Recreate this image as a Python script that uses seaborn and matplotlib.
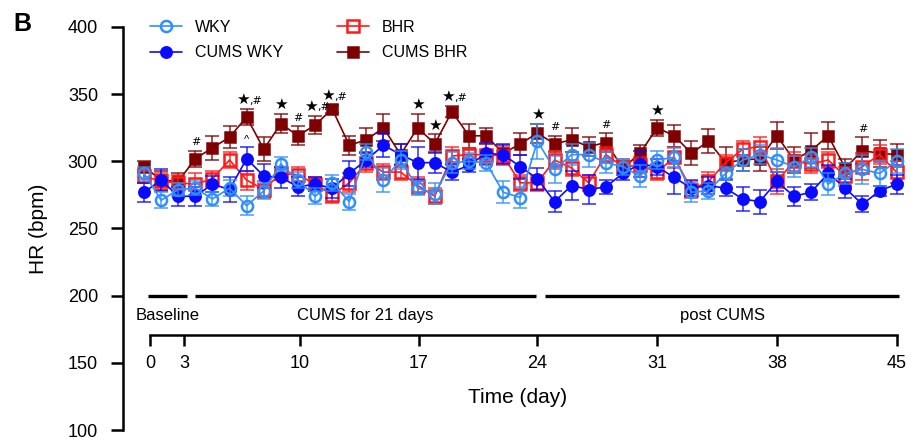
import numpy as np
import pandas as pd
from matplotlib import pyplot as plt
import seaborn as sns

sns.set_style('white')
plt.rcParams['font.family'] = ['Liberation Sans', 'DejaVu Sans']
plt.rcParams['text.color'] = 'black'
plt.rcParams['axes.labelcolor'] = 'black'
plt.rcParams['xtick.color'] = 'black'
plt.rcParams['ytick.color'] = 'black'

days = list(range(1, 46))

wky = [291, 271, 279, 280, 272, 280, 267, 278, 298, 286, 274, 284, 270, 307, 286,
       301, 280, 276, 299, 300, 299, 277, 273, 315, 294, 305, 305, 299, 296, 289,
       301, 303, 277, 278, 291, 301, 305, 301, 296, 303, 283, 291, 294, 291, 300]
wky_err = [5, 6, 5, 5, 5, 6, 7, 6, 5, 6, 6, 6, 6, 6, 9, 7, 5, 8, 8, 6, 6, 8, 8, 13,
           10, 8, 9, 8, 6, 8, 7, 7, 7, 6, 5, 8, 7, 9, 8, 7, 8, 8, 11, 9, 9]

cums_wky = [277, 286, 274, 274, 283, 279, 302, 289, 288, 281, 283, 280, 291, 301, 312,
            305, 299, 299, 292, 297, 306, 305, 296, 287, 270, 282, 279, 281, 291, 298,
            296, 288, 280, 282, 280, 272, 270, 285, 274, 277, 291, 280, 268, 278, 283]
cums_wky_err = [7, 8, 7, 7, 6, 9, 9, 9, 8, 7, 5, 7, 9, 5, 9, 8, 12, 8, 6, 5, 8, 7, 9, 8,
                8, 11, 11, 5, 5, 10, 6, 12, 6, 6, 6, 9, 9, 7, 7, 6, 6, 7, 6, 4, 7]

bhr = [289, 285, 284, 283, 287, 301, 286, 279, 291, 290, 283, 275, 284, 299, 292,
       292, 282, 274, 304, 305, 305, 304, 284, 284, 301, 295, 284, 305, 296, 297,
       292, 303, 279, 285, 299, 309, 311, 285, 300, 298, 301, 289, 296, 305, 292]
bhr_err = [5, 6, 6, 8, 6, 6, 7, 6, 5, 6, 5, 6, 7, 7, 6, 6, 6, 6, 7, 5, 8, 7, 6, 6,
           7, 6, 6, 6, 6, 6, 6, 8, 6, 7, 6, 6, 7, 9, 7, 7, 6, 7, 10, 7, 8]

cums_bhr = [296, 286, 285, 302, 310, 318, 333, 309, 328, 319, 327, 339, 312, 316, 325,
            305, 325, 313, 337, 319, 319, 306, 313, 321, 313, 316, 311, 314, 295, 306,
            325, 319, 306, 315, 299, 301, 302, 319, 301, 308, 319, 295, 308, 306, 305]
cums_bhr_err = [4, 7, 6, 6, 9, 8, 6, 9, 7, 7, 7, 3, 7, 9, 10, 8, 10, 7, 4, 9, 6, 7, 8, 7,
                6, 9, 7, 7, 5, 6, 6, 8, 9, 9, 12, 8, 9, 10, 10, 13, 10, 7, 10, 10, 8]

# significance marks above CUMS BHR: star (*) and/or hash (#)
star_days = [7, 9, 11, 12, 17, 18, 19, 24, 31]
hash_days = [4, 7, 10, 11, 12, 19, 25, 28, 43]

phase_names = ['Baseline', 'CUMS for 21 days', 'post CUMS']
phase_start = [1.25, 4.0, 24.45]
phase_end = [3.5, 23.9, 45.15]

tick_pos = [1.35, 3.35, 10.1, 17.05, 24, 31, 38, 45]
tick_lab = ['0', '3', '10', '17', '24', '31', '38', '45']

series = [
    ('CUMS BHR', cums_bhr, cums_bhr_err, '#7f0000', 's', '#7f0000', 7.5),
    ('BHR', bhr, bhr_err, '#ff1a1a', 's', 'none', 8),
    ('CUMS WKY', cums_wky, cums_wky_err, '#0a0aff', 'o', '#0a0aff', 7.5),
    ('WKY', wky, wky_err, '#2f8fff', 'o', 'none', 8),
]

fig = plt.figure(figsize=(9.12, 4.40), dpi=100)
ax = fig.add_axes([123/912, 10/440, 789/912, 403/440])

for name, vals, err, col, mk, mfc, ms in series:
    df = pd.DataFrame({'day': days, 'hr': vals})
    ax.errorbar(df.day, df.hr, yerr=err, fmt='none', ecolor=col, elinewidth=1.2,
                capsize=5, capthick=1.2, alpha=0.8)
    sns.lineplot(data=df, x='day', y='hr', color=col, marker=mk, markersize=ms,
                 markerfacecolor=mfc, markeredgecolor=col, markeredgewidth=1.8,
                 linewidth=1.2, ax=ax, label=name)

# significance text
for d in sorted(set(star_days) | set(hash_days)):
    i = days.index(d)
    top = cums_bhr[i] + cums_bhr_err[i] + 1.5
    both = d in star_days and d in hash_days
    if d in star_days:
        ax.annotate('★', (d, top), xytext=(-3 if both else 0, 0), textcoords='offset points',
                    ha='center', va='bottom', fontsize=11, family=['DejaVu Sans'])
    if d in hash_days:
        if both:
            ax.annotate(',#', (d, top), xytext=(1.5, 1), textcoords='offset points',
                        ha='left', va='bottom', fontsize=8, family=['DejaVu Sans'])
        else:
            ax.annotate('#', (d, top), xytext=(0, 1), textcoords='offset points',
                        ha='center', va='bottom', fontsize=8, family=['DejaVu Sans'])
ax.annotate('^', (7, cums_wky[6] + cums_wky_err[6] + 1.5), xytext=(0, 0),
            textcoords='offset points', ha='center', va='bottom', fontsize=8)

# phase bars
for n, s, e in zip(phase_names, phase_start, phase_end):
    ax.plot([s, e], [200, 200], color='black', lw=2.4, solid_capstyle='butt')
    ax.text((s + e) / 2, 185, n, ha='center', va='center', fontsize=12)

ax.set_xlim(-0.23, 45.9)
ax.set_ylim(100, 400)
ax.set_yticks(range(100, 401, 50))
ax.set_ylabel('HR (bpm)', fontsize=15, labelpad=14)
ax.tick_params(axis='y', direction='out', length=9, width=1.8, labelsize=13, pad=9, left=True)

ax.spines['top'].set_visible(False)
ax.spines['right'].set_visible(False)
ax.spines['left'].set_linewidth(1.8)
ax.spines['left'].set_color('black')
ax.spines['bottom'].set_position(('data', 171))
ax.spines['bottom'].set_bounds(tick_pos[0], tick_pos[-1])
ax.spines['bottom'].set_linewidth(1.8)
ax.spines['bottom'].set_color('black')
ax.set_xticks(tick_pos)
ax.set_xticklabels(tick_lab)
ax.tick_params(axis='x', direction='out', length=8, width=1.8, labelsize=13, pad=7, bottom=True)
ax.set_xlabel('Time (day)', fontsize=15, labelpad=11)

h, l = ax.get_legend_handles_labels()
order = [l.index('WKY'), l.index('CUMS WKY'), l.index('BHR'), l.index('CUMS BHR')]
ax.legend([h[i] for i in order], [l[i] for i in order], ncol=2, frameon=False,
          loc='upper left', bbox_to_anchor=(150/912, 1 - 20/440), bbox_transform=fig.transFigure,
          borderpad=0, borderaxespad=0, fontsize=11.5, handlelength=2.0, handletextpad=0.8,
          columnspacing=3.4, labelspacing=0.65)

fig.text(13/912, 1 - 24/440, 'B', fontsize=18, fontweight='bold', va='center')

fig.savefig('out.png', dpi=100)
